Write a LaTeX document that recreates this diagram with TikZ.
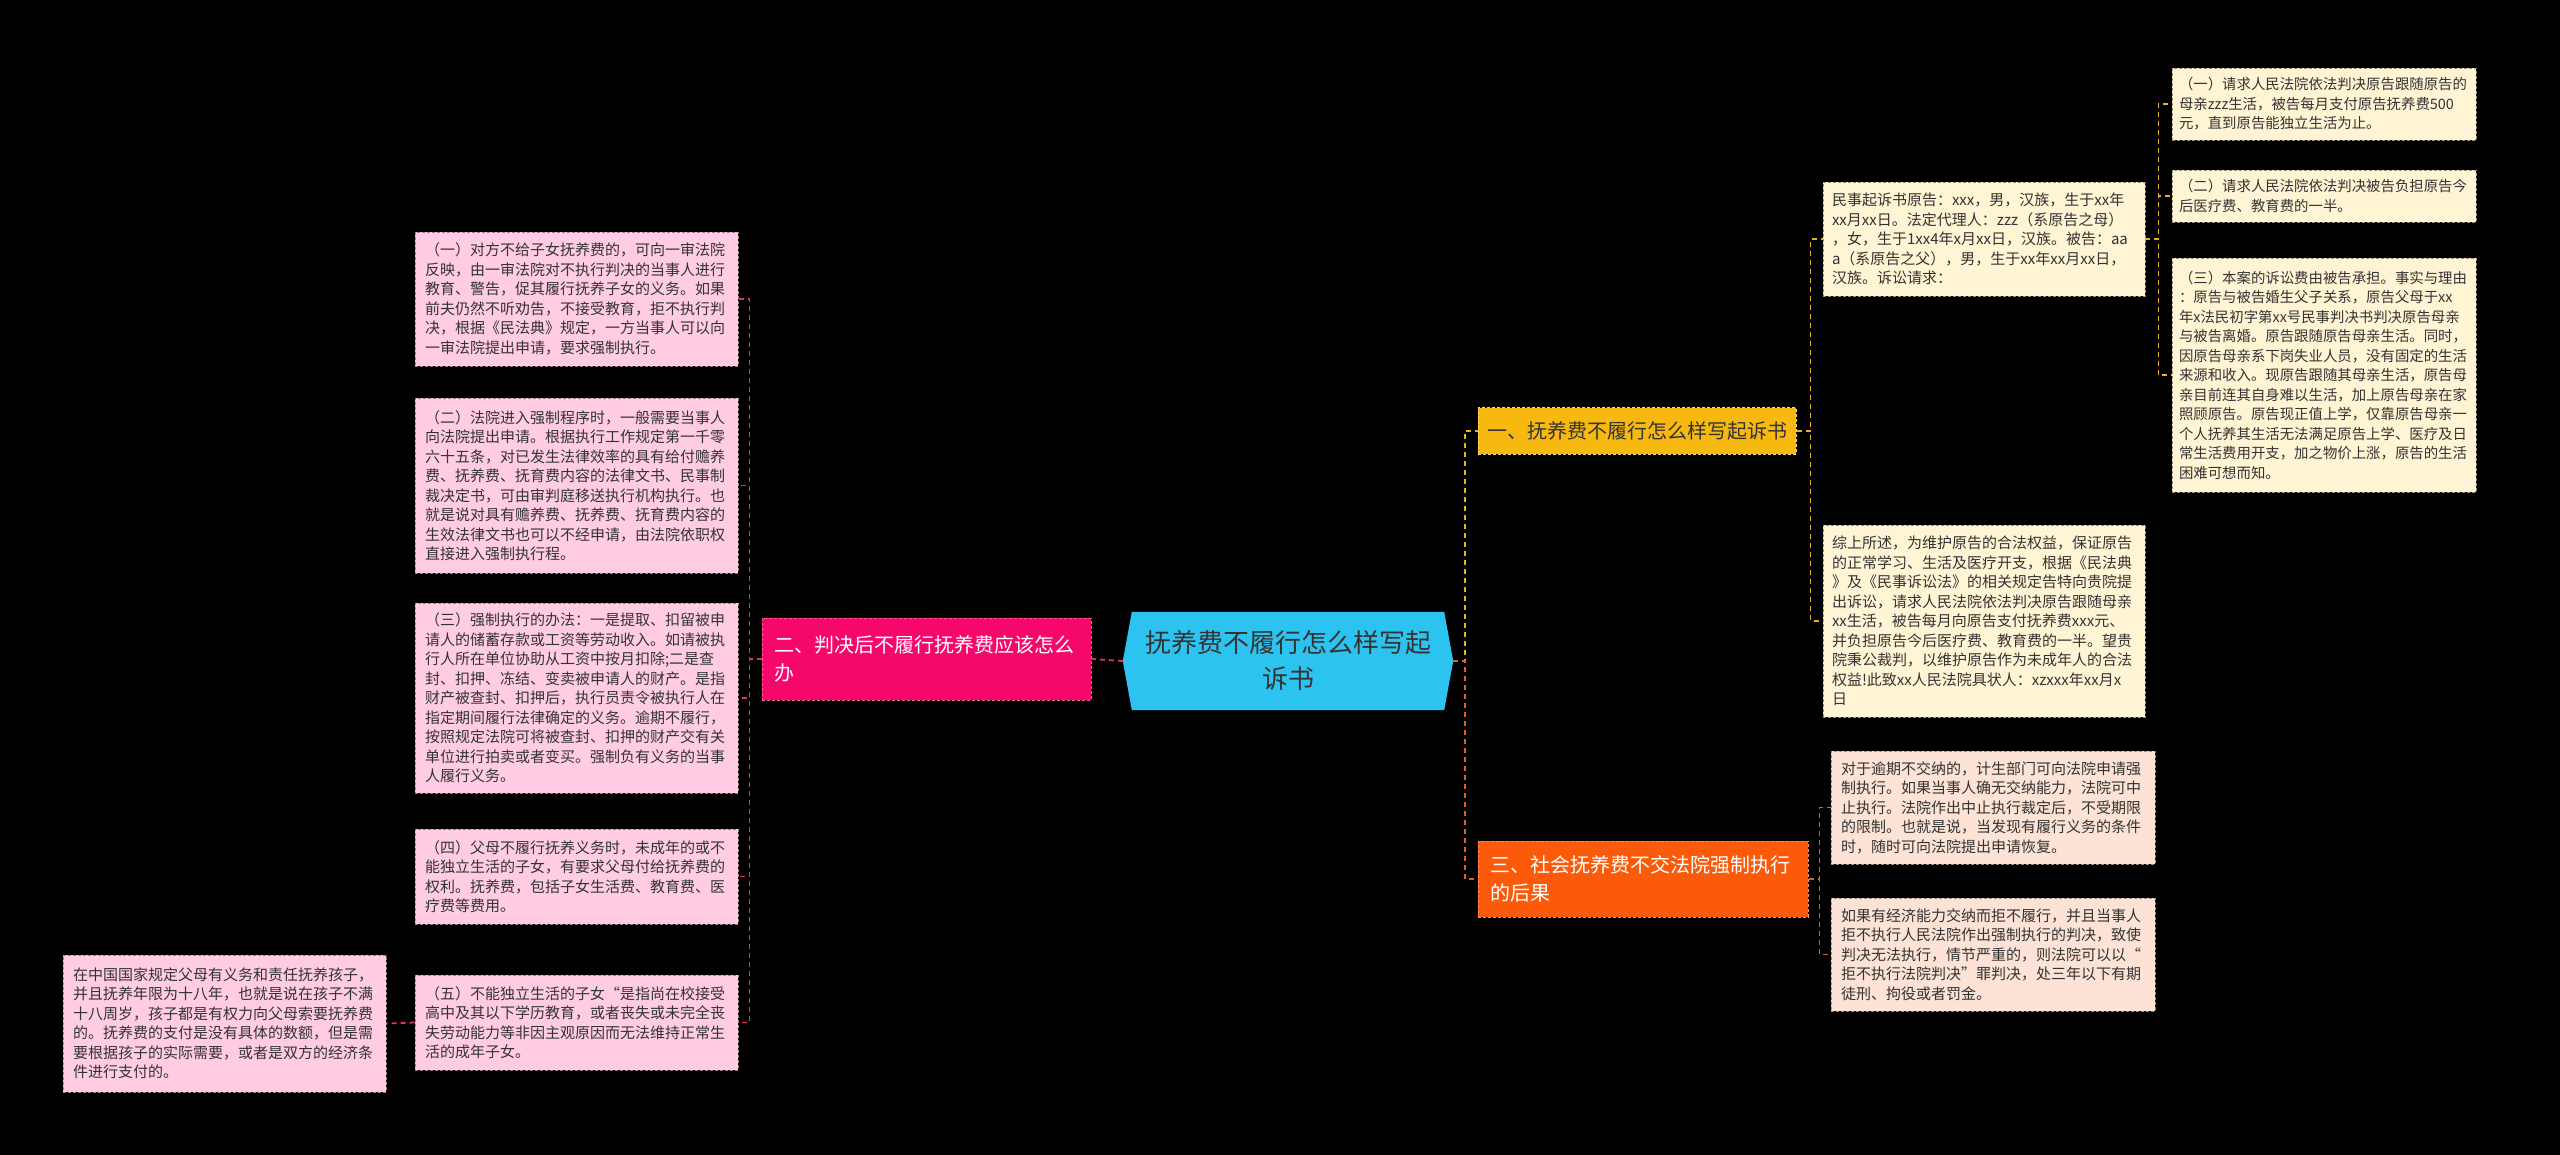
\documentclass[tikz,border=0pt]{standalone}
\usepackage{fontspec}
\setmainfont{Noto Sans CJK SC}
\usetikzlibrary{calc}
\definecolor{pinkfill}{HTML}{FFCCE3}
\definecolor{pinkedge}{HTML}{9E7E8C}
\definecolor{creamfill}{HTML}{FFF4D4}
\definecolor{creamedge}{HTML}{9A8C6E}
\definecolor{peachfill}{HTML}{FDE3D6}
\definecolor{peachedge}{HTML}{A08878}
\definecolor{magentab}{HTML}{F5076B}
\definecolor{magentaedge}{HTML}{FF5A98}
\definecolor{goldb}{HTML}{F7B80F}
\definecolor{goldedge}{HTML}{FFD870}
\definecolor{orangeb}{HTML}{FA5A0A}
\definecolor{orangeedge}{HTML}{FF9060}
\definecolor{cyanc}{HTML}{2DC3F0}
\definecolor{lline}{HTML}{E0306E}
\definecolor{yline}{HTML}{E8B020}
\definecolor{oline}{HTML}{D8641E}
\definecolor{textdark}{HTML}{333333}
\newcommand\bodyfs{\fontsize{15pt}{19.5pt}\selectfont}
\newcommand\smallfs{\fontsize{14.4pt}{19.5pt}\selectfont}
\newcommand\branchfs{\fontsize{20pt}{28pt}\selectfont}
\newcommand\centerfs{\fontsize{26pt}{36pt}\selectfont}
\begin{document}
\begin{tikzpicture}[x=1pt,y=-1pt,
  txt/.style={rectangle, align=left, inner xsep=10pt, inner ysep=4pt, font=\bodyfs, text=textdark, dash pattern=on 3pt off 2pt, line width=0.8pt},
  pinkbox/.style={txt, fill=pinkfill, draw=pinkedge},
  creambox/.style={txt, fill=creamfill, draw=creamedge},
  peachbox/.style={txt, fill=peachfill, draw=peachedge},
  branch/.style={rectangle, align=left, inner xsep=12pt, inner ysep=4pt, font=\branchfs, dash pattern=on 3pt off 2pt, line width=1pt},
  conn/.style={dash pattern=on 5pt off 4pt, line width=1.8pt},
  lconn/.style={conn, draw=lline},
  yconn/.style={conn, draw=yline},
  oconn/.style={conn, draw=oline}]
\fill[black] (0,0) rectangle (2560,1155);
\useasboundingbox (0,0) rectangle (2560,1155);

% center
\node[rectangle, minimum width=312pt, minimum height=98pt, inner sep=0pt] (c) at (1288,661) {};
\coordinate (cL) at ([xshift=-9pt]c.west);
\coordinate (cR) at ([xshift=9pt]c.east);
\fill[cyanc] (c.north west) -- (c.north east) -- (cR) -- (c.south east) -- (c.south west) -- (cL) -- cycle;
\node[align=center, font=\centerfs, text=textdark, text width=300pt] (ct) at (c.center) {抚养费不履行怎么样写起\\诉书};

% branches
\node[branch, fill=magentab, draw=magentaedge, text=white, text width=305pt, minimum height=82pt] (b2) at (926.5,659) {二、判决后不履行抚养费应该怎么\\办};
\node[branch, fill=goldb, draw=goldedge, text=textdark, inner xsep=9pt, text width=300pt, minimum height=46pt] (b1) at (1637,431) {一、抚养费不履行怎么样写起诉书};
\node[branch, fill=orangeb, draw=orangeedge, text=white, text width=306pt, minimum height=76pt] (b3) at (1643,879) {三、社会抚养费不交法院强制执行\\的后果};

% left children
\node[pinkbox, text width=303pt, minimum height=134pt] (l1) at (576.5,299) {（一）对方不给子女抚养费的，可向一审法院\\反映，由一审法院对不执行判决的当事人进行\\教育、警告，促其履行抚养子女的义务。如果\\前夫仍然不听劝告，不接受教育，拒不执行判\\决，根据《民法典》规定，一方当事人可以向\\一审法院提出申请，要求强制执行。};
\node[pinkbox, text width=303pt, minimum height=175pt] (l2) at (576.5,485.5) {（二）法院进入强制程序时，一般需要当事人\\向法院提出申请。根据执行工作规定第一千零\\六十五条，对已发生法律效率的具有给付赡养\\费、抚养费、抚育费内容的法律文书、民事制\\裁决定书，可由审判庭移送执行机构执行。也\\就是说对具有赡养费、抚养费、抚育费内容的\\生效法律文书也可以不经申请，由法院依职权\\直接进入强制执行程。};
\node[pinkbox, text width=303pt, minimum height=190pt] (l3) at (576.5,698) {（三）强制执行的办法：一是提取、扣留被申\\请人的储蓄存款或工资等劳动收入。如请被执\\行人所在单位协助从工资中按月扣除;二是查\\封、扣押、冻结、变卖被申请人的财产。是指\\财产被查封、扣押后，执行员责令被执行人在\\指定期间履行法律确定的义务。逾期不履行，\\按照规定法院可将被查封、扣押的财产交有关\\单位进行拍卖或者变买。强制负有义务的当事\\人履行义务。};
\node[pinkbox, text width=303pt, minimum height=95pt] (l4) at (576.5,876.5) {（四）父母不履行抚养义务时，未成年的或不\\能独立生活的子女，有要求父母付给抚养费的\\权利。抚养费，包括子女生活费、教育费、医\\疗费等费用。};
\node[pinkbox, text width=303pt, minimum height=95pt] (l5) at (576.5,1022.5) {（五）不能独立生活的子女“是指尚在校接受\\高中及其以下学历教育，或者丧失或未完全丧\\失劳动能力等非因主观原因而无法维持正常生\\活的成年子女。};
\node[pinkbox, text width=303pt, minimum height=137pt] (fl) at (224.5,1023.5) {在中国国家规定父母有义务和责任抚养孩子，\\并且抚养年限为十八年，也就是说在孩子不满\\十八周岁，孩子都是有权力向父母索要抚养费\\的。抚养费的支付是没有具体的数额，但是需\\要根据孩子的实际需要，或者是双方的经济条\\件进行支付的。};

% right branch 1 children
\node[creambox, inner xsep=9pt, text width=304pt, minimum height=114pt] (r0) at (1984,239) {民事起诉书原告：xxx，男，汉族，生于xx年\\xx月xx日。法定代理人：zzz（系原告之母）\\，女，生于1xx4年x月xx日，汉族。被告：aa\\a（系原告之父），男，生于xx年xx月xx日，\\汉族。诉讼请求：};
\node[creambox, inner xsep=9pt, text width=304pt, minimum height=192pt] (rs) at (1984,621) {综上所述，为维护原告的合法权益，保证原告\\的正常学习、生活及医疗开支，根据《民法典\\》及《民事诉讼法》的相关规定告特向贵院提\\出诉讼，请求人民法院依法判决原告跟随母亲\\xx生活，被告每月向原告支付抚养费xxx元、\\并负担原告今后医疗费、教育费的一半。望贵\\院秉公裁判，以维护原告作为未成年人的合法\\权益!此致xx人民法院具状人：xzxxx年xx月x\\日};
\node[creambox, font=\smallfs, inner xsep=7pt, text width=290pt, minimum height=72pt] (r1) at (2324,104) {（一）请求人民法院依法判决原告跟随原告的\\母亲zzz生活，被告每月支付原告抚养费500\\元，直到原告能独立生活为止。};
\node[creambox, font=\smallfs, inner xsep=7pt, text width=290pt, minimum height=52pt] (r2) at (2324,196) {（二）请求人民法院依法判决被告负担原告今\\后医疗费、教育费的一半。};
\node[creambox, font=\smallfs, inner xsep=7pt, text width=290pt, minimum height=234pt] (r3) at (2324,375) {（三）本案的诉讼费由被告承担。事实与理由\\：原告与被告婚生父子关系，原告父母于xx\\年x法民初字第xx号民事判决书判决原告母亲\\与被告离婚。原告跟随原告母亲生活。同时，\\因原告母亲系下岗失业人员，没有固定的生活\\来源和收入。现原告跟随其母亲生活，原告母\\亲目前连其自身难以生活，加上原告母亲在家\\照顾原告。原告现正值上学，仅靠原告母亲一\\个人抚养其生活无法满足原告上学、医疗及日\\常生活费用开支，加之物价上涨，原告的生活\\困难可想而知。};

% right branch 3 children
\node[peachbox, text width=304pt, minimum height=113pt] (bA) at (1993,807.5) {对于逾期不交纳的，计生部门可向法院申请强\\制执行。如果当事人确无交纳能力，法院可中\\止执行。法院作出中止执行裁定后，不受期限\\的限制。也就是说，当发现有履行义务的条件\\时，随时可向法院提出申请恢复。};
\node[peachbox, text width=304pt, minimum height=113pt] (bB) at (1993,954.5) {如果有经济能力交纳而拒不履行，并且当事人\\拒不执行人民法院作出强制执行的判决，致使\\判决无法执行，情节严重的，则法院可以以“\\拒不执行法院判决”罪判决，处三年以下有期\\徒刑、拘役或者罚金。};

% connectors left
\draw[lconn] (cL) -- (b2.east);
\foreach \n in {l1,l2,l3,l4,l5} \draw[lconn] (b2.west) -- ++(-12,0) |- (\n.east);
\draw[lconn] (l5.west) -- (fl.east);

% connectors right
\draw[yconn] (cR) -- ++(12,0) |- (b1.west);
\draw[oconn] (cR) -- ++(12,0) |- (b3.west);
\draw[yconn] (b1.east) -- ++(14,0) |- (r0.west);
\draw[yconn] (b1.east) -- ++(14,0) |- (rs.west);
\foreach \n in {r1,r2,r3} \draw[yconn] (r0.east) -- ++(13,0) |- (\n.west);
\draw[oconn] (b3.east) -- ++(11,0) |- (bA.west);
\draw[oconn] (b3.east) -- ++(11,0) |- (bB.west);
\end{tikzpicture}
\end{document}
